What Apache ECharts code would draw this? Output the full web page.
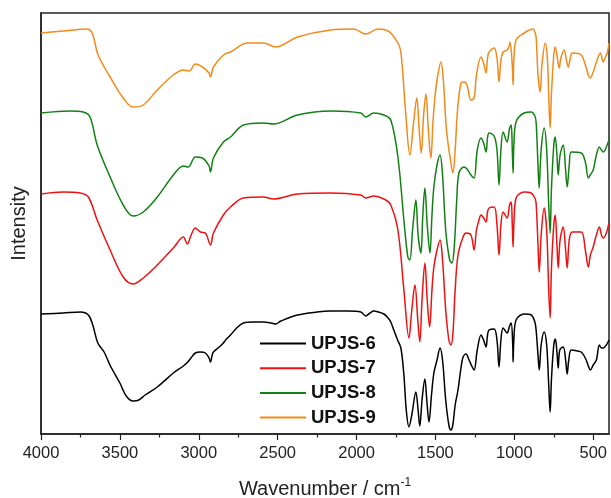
<!DOCTYPE html>
<html>
<head>
<meta charset="utf-8">
<script src="https://cdn.jsdelivr.net/npm/echarts@6/dist/echarts.min.js"></script>
<style>
  html, body { margin: 0; padding: 0; background: #fff; }
  #chart { width: 611px; height: 498px; }
</style>
</head>
<body>
<div id="chart"></div>
<script>
// FTIR spectra, stacked with vertical offsets (arbitrary intensity units).
// Each point: [wavenumber (cm-1), intensity]
const seriesNames = ['UPJS-6', 'UPJS-7', 'UPJS-8', 'UPJS-9'];
const seriesColors = ['#000000', '#ee1111', '#138013', '#f28a1a'];

const majorTicks = [4000, 3500, 3000, 2500, 2000, 1500, 1000, 500];
const minorTicks = [3750, 3250, 2750, 2250, 1750, 1250, 750];

const upjs6 = [
  [4000,120],[3860,121],[3750,122],[3700,119],[3672,109],[3640,91],[3600,82],[3560,68],
  [3500,51],[3460,38],[3416,33],[3380,34],[3340,39],[3263,47],[3161,61],[3098,68],
  [3070,72],[3050,76],[3022,81],[2990,82],[2958,81],[2935,76],[2926,72],[2915,79],
  [2907,82],[2870,87],[2844,91],[2830,94],[2799,99],[2760,106],[2717,111],[2650,112],
  [2590,112],[2540,111],[2513,110],[2480,113],[2374,119],[2250,122],[2164,123],[2050,123],
  [1973,122],[1942,118],[1915,121],[1891,123],[1860,122],[1827,120],[1800,116],[1783,112],
  [1764,104],[1740,94],[1719,86],[1700,59],[1685,24],[1668,7],[1650,19],[1624,42],
  [1610,24],[1599,8],[1585,34],[1567,55],[1555,34],[1541,12],[1525,39],[1510,61],
  [1490,74],[1471,86],[1455,74],[1435,34],[1415,9],[1402,4],[1390,9],[1375,29],
  [1357,44],[1340,64],[1325,77],[1306,80],[1287,74],[1270,68],[1255,64],[1235,84],
  [1211,99],[1195,94],[1179,87],[1170,99],[1160,104],[1128,105],[1110,94],[1097,67],
  [1085,94],[1071,106],[1046,101],[1030,108],[1020,111],[1010,89],[1008,72],[1003,94],
  [989,114],[938,120],[893,119],[870,112],[862,104],[850,79],[842,64],[830,89],
  [811,102],[795,89],[782,49],[773,22],[765,54],[750,89],[740,95],[730,82],
  [722,66],[712,84],[690,87],[675,74],[665,60],[655,74],[639,84],[600,83],
  [576,82],[550,76],[531,68],[518,64],[500,69],[480,74],[461,89],[448,86],
  [436,86],[417,89],[400,94]
];

const upjs7 = [
  [4000,240],[3860,242],[3752,241],[3700,237],[3644,214],[3562,184],[3479,157],[3416,150],
  [3352,156],[3263,169],[3161,186],[3098,197],[3072,190],[3053,197],[3022,206],[2990,202],
  [2958,201],[2926,189],[2907,201],[2844,219],[2799,227],[2717,236],[2590,237],[2526,235],
  [2374,240],[2164,241],[1973,239],[1942,236],[1891,238],[1815,234],[1783,229],[1738,204],
  [1700,144],[1668,96],[1650,124],[1630,149],[1612,114],[1599,92],[1585,134],[1567,171],
  [1552,134],[1537,107],[1522,144],[1510,167],[1490,184],[1471,194],[1455,174],[1435,124],
  [1415,94],[1402,89],[1390,99],[1375,144],[1357,179],[1325,197],[1306,201],[1275,199],
  [1255,184],[1240,204],[1224,214],[1211,219],[1198,217],[1179,212],[1170,222],[1160,226],
  [1128,227],[1110,209],[1097,179],[1085,209],[1071,222],[1046,216],[1030,229],[1020,232],
  [1013,209],[1008,187],[1003,209],[989,236],[938,242],[893,241],[870,236],[862,231],
  [850,189],[842,162],[830,199],[811,226],[795,204],[782,144],[773,116],[765,164],
  [750,209],[741,219],[730,189],[722,166],[710,194],[690,207],[675,184],[665,166],
  [652,194],[633,202],[576,202],[550,184],[531,167],[518,179],[500,187],[480,199],
  [461,207],[448,199],[436,196],[417,201],[400,211]
];

const upjs8 = [
  [4000,321],[3816,323],[3733,322],[3689,317],[3644,289],[3562,257],[3479,229],[3416,218],
  [3352,222],[3263,237],[3161,259],[3098,268],[3066,267],[3022,277],[2977,276],[2935,268],
  [2926,262],[2907,276],[2844,292],[2799,297],[2717,309],[2590,311],[2526,310],[2374,319],
  [2164,323],[1973,321],[1942,317],[1891,321],[1827,319],[1783,314],[1738,277],[1700,214],
  [1675,177],[1662,174],[1645,204],[1624,234],[1610,199],[1592,181],[1580,219],[1567,246],
  [1552,209],[1535,181],[1522,219],[1510,247],[1490,269],[1471,279],[1455,259],[1435,204],
  [1410,174],[1395,171],[1380,189],[1365,234],[1351,261],[1319,267],[1300,265],[1275,259],
  [1255,256],[1235,284],[1211,296],[1195,291],[1179,282],[1170,296],[1160,301],[1128,298],
  [1110,284],[1097,249],[1085,284],[1071,302],[1046,292],[1030,306],[1020,309],[1013,284],
  [1008,261],[1003,289],[989,312],[938,321],[893,322],[870,318],[862,312],[850,269],
  [843,246],[830,284],[811,306],[795,284],[782,229],[773,201],[765,244],[750,289],
  [741,297],[730,279],[722,259],[710,279],[690,289],[675,264],[665,247],[652,269],
  [639,282],[576,281],[550,272],[531,256],[519,259],[500,264],[480,279],[461,287],
  [448,284],[436,282],[417,287],[400,294]
];

const upjs9 = [
  [4000,401],[3860,403],[3708,405],[3676,401],[3638,379],[3562,357],[3479,336],[3416,327],
  [3352,329],[3263,344],[3161,359],[3098,364],[3060,363],[3022,370],[2977,367],[2935,361],
  [2926,357],[2907,367],[2844,379],[2799,382],[2691,391],[2590,391],[2513,387],[2374,397],
  [2164,404],[2018,405],[1942,400],[1865,405],[1815,404],[1783,401],[1738,391],[1719,382],
  [1690,324],[1662,279],[1640,309],[1618,336],[1603,304],[1590,281],[1575,319],[1560,340],
  [1545,304],[1529,276],[1515,314],[1503,337],[1485,359],[1465,372],[1450,354],[1430,304],
  [1400,269],[1389,261],[1375,284],[1360,324],[1338,351],[1319,352],[1300,349],[1275,334],
  [1255,336],[1240,359],[1211,377],[1195,371],[1179,361],[1170,376],[1160,382],[1128,386],
  [1110,376],[1097,352],[1085,374],[1071,382],[1046,384],[1030,389],[1027,392],[1013,369],
  [1008,349],[1003,374],[989,394],[938,401],[881,405],[870,402],[862,397],[850,359],
  [836,342],[825,369],[804,391],[790,374],[780,329],[773,306],[765,339],[750,379],
  [741,387],[730,379],[716,366],[705,376],[684,384],[670,374],[658,367],[645,376],
  [633,381],[576,379],[550,369],[531,359],[519,356],[500,362],[480,372],[455,381],
  [436,372],[425,376],[411,381],[400,391]
];

const spectra = [upjs6, upjs7, upjs8, upjs9];

const chart = echarts.init(document.getElementById('chart'), null, { renderer: 'canvas' });

const fontFamily = 'Arial, "Liberation Sans", sans-serif';

chart.setOption({
  animation: false,
  backgroundColor: '#ffffff',
  grid: {
    left: 41, right: 2, top: 13, bottom: 64,
    outerBoundsMode: 'none',
    show: true, borderColor: '#222', borderWidth: 1.5, backgroundColor: 'transparent'
  },
  legend: {
    orient: 'vertical',
    left: 255, top: 329,
    icon: 'rect',
    itemWidth: 46, itemHeight: 2, itemGap: 5.7,
    data: seriesNames,
    textStyle: { fontFamily, fontSize: 18.5, fontWeight: 'bold', color: '#111', lineHeight: 18 }
  },
  xAxis: [
    {
      type: 'value', inverse: true, min: 400, max: 4000,
      name: 'Wavenumber / cm{sup|-1}',
      nameLocation: 'middle', nameGap: 43,
      nameTextStyle: {
        fontFamily, fontSize: 20, color: '#222',
        rich: { sup: { fontFamily, fontSize: 12, color: '#222', verticalAlign: 'top', padding: [0, 0, 12, 0] } }
      },
      axisLine: { show: true, onZero: false, lineStyle: { color: '#222', width: 1.5 } },
      axisTick: { show: true, inside: false, length: 6, customValues: majorTicks, lineStyle: { color: '#222', width: 1.2 } },
      axisLabel: {
        customValues: majorTicks, margin: 11, fontFamily, fontSize: 16.5, color: '#222',
        formatter: (v) => String(v)
      },
      splitLine: { show: false }
    },
    {
      type: 'value', inverse: true, min: 400, max: 4000, position: 'bottom',
      axisLine: { show: false },
      axisTick: { show: true, inside: false, length: 3.5, customValues: minorTicks, lineStyle: { color: '#222', width: 1.2 } },
      axisLabel: { show: false, customValues: minorTicks },
      splitLine: { show: false }
    }
  ],
  yAxis: {
    type: 'value', min: 0, max: 421,
    name: 'Intensity', nameLocation: 'middle', nameGap: 12,
    nameTextStyle: { fontFamily, fontSize: 20, color: '#222' },
    axisLine: { show: true, lineStyle: { color: '#222', width: 1.5 } },
    axisTick: { show: false },
    axisLabel: { show: false },
    splitLine: { show: false }
  },
  series: spectra.map((data, i) => ({
    name: seriesNames[i],
    type: 'line',
    xAxisIndex: 0,
    data: data,
    symbol: 'none',
    smooth: 0.35,
    color: seriesColors[i],
    lineStyle: { color: seriesColors[i], width: 1.5 }
  }))
});
</script>
</body>
</html>
